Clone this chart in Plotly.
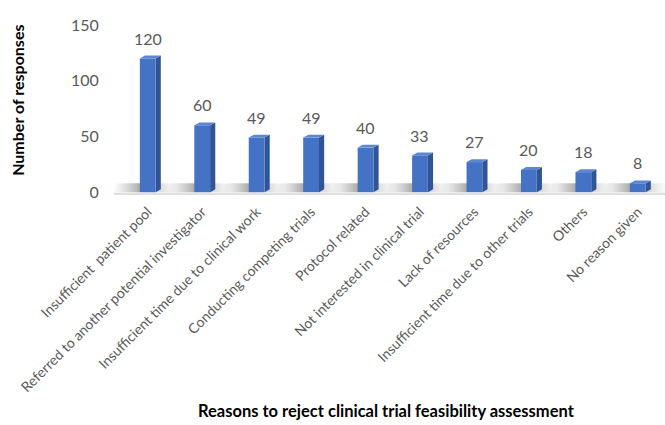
import plotly.graph_objects as go

# Survey results: reasons investigators rejected a feasibility assessment
categories = [
    "Insufficient  patient pool",
    "Referred to another potential investigator",
    "Insufficient time due to clinical work",
    "Conducting competing trials",
    "Protocol related",
    "Not interested in clinical trial",
    "Lack of resources",
    "Insufficient time due to other trials",
    "Others",
    "No reason given",
]
responses = [120, 60, 49, 49, 40, 33, 27, 20, 18, 8]
y_ticks = [0, 50, 100, 150]

FRONT = "#4472c4"
SIDE = "#2f5597"
TOP = "#5b86d2"
GRAY = "#595959"
FONT = "Lato, 'Open Sans', sans-serif"

bar_w = 0.29
dx, dy = 0.095, 2.6  # depth offset of the 3-D faces (x in categories, y in value units)

xs = list(range(len(categories)))
fig = go.Figure()

# floor strip under the bars
fig.add_shape(type="rect", xref="x", yref="y", x0=-0.62, x1=9.5, y0=-2.6, y1=-0.6,
              fillcolor="#e0e0e0", line_width=0, layer="below")


def face(xp, yp, color):
    fig.add_trace(go.Scatter(
        x=xp, y=yp, fill="toself", fillcolor=color, mode="lines",
        line=dict(width=0, color=color), hoverinfo="skip", showlegend=False))


# soft shadows cast on the floor next to each bar
for x in xs:
    xl, xr = x - bar_w / 2, x + bar_w / 2
    fig.add_trace(go.Scatter(
        x=[xl - 0.5, xl, xl + dx, xl - 0.42, xl - 0.5],
        y=[0, 0, 8, 8, 0],
        fill="toself", mode="none", hoverinfo="skip", showlegend=False,
        fillgradient=dict(type="horizontal",
                          colorscale=[[0, "rgba(140,140,140,0)"], [1, "rgba(80,80,80,0.6)"]]),
    ))
    fig.add_trace(go.Scatter(
        x=[xr, xr + 0.35, xr + 0.4, xr + dx, xr],
        y=[0, 0, 8, 8, 0],
        fill="toself", mode="none", hoverinfo="skip", showlegend=False,
        fillgradient=dict(type="horizontal",
                          colorscale=[[0, "rgba(120,120,120,0.35)"], [1, "rgba(160,160,160,0)"]]),
    ))

# bars: front, right-hand side and top faces for the 3-D look
for x, v in zip(xs, responses):
    xl, xr = x - bar_w / 2, x + bar_w / 2
    face([xr, xr, xr + dx, xr + dx, xr], [0, v, v + dy, dy, 0], SIDE)
    face([xl, xr, xr, xl, xl], [0, 0, v, v, 0], FRONT)
    face([xl, xr, xr + dx, xl + dx, xl], [v, v, v + dy, v + dy, v], TOP)

# value labels above the bars
for x, v in zip(xs, responses):
    fig.add_annotation(x=x, y=v + dy, text=str(v), showarrow=False, yanchor="bottom",
                       yshift=6, font=dict(family=FONT, size=16, color=GRAY))

fig.add_annotation(text="<b>Number of responses</b>", textangle=-90, showarrow=False,
                   xref="paper", yref="paper", x=-0.175, y=0.57, xanchor="center",
                   font=dict(family=FONT, size=16, color="black"))
fig.add_annotation(text="<b>Reasons to reject clinical trial feasibility assessment</b>",
                   showarrow=False, xref="paper", yref="paper", x=0.495, y=-1.205,
                   xanchor="center", yanchor="middle",
                   font=dict(family=FONT, size=16.5, color="black"))

fig.update_xaxes(range=[-0.62, 9.5], tickvals=xs, ticktext=categories, tickangle=-45,
                 tickfont=dict(family=FONT, size=14, color=GRAY), showgrid=False,
                 zeroline=False, showline=False, ticks="", automargin=False)
fig.update_yaxes(range=[-7, 150], tickvals=y_ticks, showgrid=False, zeroline=False,
                 showline=False, ticks="outside", ticklen=11, tickcolor="rgba(0,0,0,0)",
                 tickfont=dict(family=FONT, size=16, color=GRAY), automargin=False)

fig.update_layout(width=665, height=425, margin=dict(l=114, r=0, t=25, b=225),
                  plot_bgcolor="white", paper_bgcolor="white",
                  font=dict(family=FONT))

fig.write_html("out.html")
